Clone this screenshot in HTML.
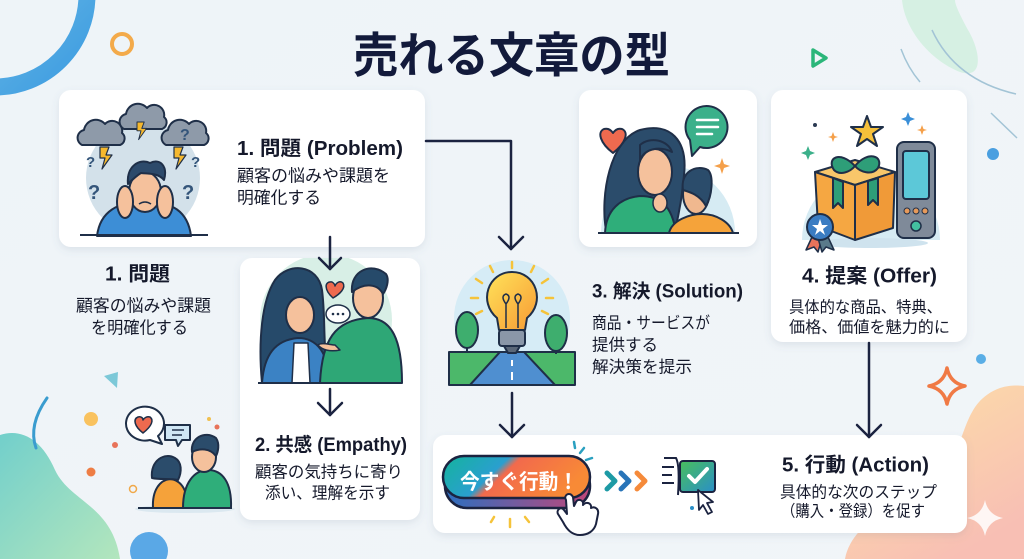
<!DOCTYPE html>
<html><head><meta charset="utf-8">
<style>
html,body{margin:0;padding:0;background:#eef4f8;}
body{width:1024px;height:559px;overflow:hidden;}
svg{display:block;}
text{font-family:"Liberation Sans","Noto Sans CJK JP",sans-serif;}
</style></head>
<body>
<svg width="1024" height="559" viewBox="0 0 1024 559" xmlns="http://www.w3.org/2000/svg">
<defs>
  <linearGradient id="bgG" x1="0" y1="0" x2="1" y2="1">
    <stop offset="0" stop-color="#eef4f8"/><stop offset="1" stop-color="#f1f5f8"/>
  </linearGradient>
  <linearGradient id="arcG" x1="0" y1="0" x2="1" y2="1">
    <stop offset="0" stop-color="#8fd0ec"/><stop offset="1" stop-color="#3b9be0"/>
  </linearGradient>
  <linearGradient id="peachG" x1="0" y1="0" x2="0.6" y2="1">
    <stop offset="0" stop-color="#fde2a6"/><stop offset="1" stop-color="#f8bfb4"/>
  </linearGradient>
  <linearGradient id="tealG" x1="0" y1="0" x2="1" y2="1">
    <stop offset="0" stop-color="#72cfcb"/><stop offset="1" stop-color="#b3e6bd"/>
  </linearGradient>
  <linearGradient id="btnG" x1="0" y1="0" x2="1" y2="0.3">
    <stop offset="0" stop-color="#14b49c"/><stop offset="0.42" stop-color="#2a9fcf"/>
    <stop offset="0.5" stop-color="#f26a4c"/><stop offset="1" stop-color="#f88a36"/>
  </linearGradient>
  <linearGradient id="btnB" x1="0" y1="0" x2="1" y2="0">
    <stop offset="0" stop-color="#2c6fc0"/><stop offset="1" stop-color="#c0467a"/>
  </linearGradient>
  <linearGradient id="bulbG" x1="0" y1="0" x2="1" y2="1">
    <stop offset="0" stop-color="#ffe35a"/><stop offset="1" stop-color="#f79a34"/>
  </linearGradient>
  <linearGradient id="chkG" x1="0" y1="0" x2="1" y2="1">
    <stop offset="0" stop-color="#49bf5c"/><stop offset="1" stop-color="#2a8fc8"/>
  </linearGradient>
  <filter id="sh" x="-10%" y="-10%" width="120%" height="130%">
    <feDropShadow dx="0" dy="3" stdDeviation="4" flood-color="#5a7590" flood-opacity="0.14"/>
  </filter>
  <clipPath id="c2"><rect x="240" y="258" width="180" height="126" rx="12"/></clipPath>
  <path id="cloud" d="M4,27 a8,8 0 0 1 2,-15 a12,12 0 0 1 21,-6 a10,10 0 0 1 17,9 a7,7 0 0 1 -2,12 z"/>
  <path id="bolt" d="M0,0 L9,0 L6,8 L12,8 L2,22 L5,11 L0,11 z"/>
</defs>

<!-- background -->
<rect width="1024" height="559" fill="url(#bgG)"/>
<circle cx="-5" cy="-5" r="92" fill="none" stroke="url(#arcG)" stroke-width="17"/>
<circle cx="122" cy="44" r="10" fill="none" stroke="#f3aa4a" stroke-width="4"/>
<path d="M902,0 C905,30 930,60 960,72 C985,80 980,50 968,30 C960,15 955,5 955,0 Z" fill="#d3efe0" opacity="0.9"/>
<path d="M901,49 Q908,68 920,82" fill="none" stroke="#a3c4d6" stroke-width="1.5"/>
<path d="M932,30 Q955,80 1016,94" fill="none" stroke="#a3c4d6" stroke-width="1.5"/>
<path d="M991,113 L1017,138" fill="none" stroke="#a3c4d6" stroke-width="1.5"/>
<path d="M813,50 L826,58 L813,66 Z" fill="none" stroke="#2bb67a" stroke-width="3.5" stroke-linejoin="round"/>
<circle cx="993" cy="154" r="6" fill="#4a9fe0"/>
<circle cx="981" cy="359" r="5" fill="#5aaee6"/>
<path d="M845,559 C852,520 905,500 945,470 C968,440 962,402 1000,388 C1012,384 1024,386 1024,386 L1024,559 Z" fill="url(#peachG)"/>
<path d="M985,500 Q988,515 1003,518 Q988,521 985,536 Q982,521 967,518 Q982,515 985,500 Z" fill="#fff" opacity="0.85"/>
<path d="M947,368 Q950,383 965,386 Q950,389 947,404 Q944,389 929,386 Q944,383 947,368 Z" fill="none" stroke="#f07a45" stroke-width="3.5" stroke-linejoin="round"/>
<path d="M0,435 C22,428 42,440 55,470 C70,502 112,505 120,559 L0,559 Z" fill="url(#tealG)"/>
<circle cx="149" cy="551" r="19" fill="#5aa8e6"/>
<path d="M104,376 L118,372 L117,388 Z" fill="#7cc8d8"/>
<path d="M47,398 Q28,425 36,448" fill="none" stroke="#3a9ccf" stroke-width="3" stroke-linecap="round"/>
<circle cx="91" cy="419" r="7" fill="#f9c25f"/>
<circle cx="115" cy="445" r="3" fill="#e8735a"/>
<circle cx="91" cy="472" r="4.5" fill="#ee7d45"/>
<circle cx="133" cy="489" r="3.5" fill="none" stroke="#f0a84a" stroke-width="1.5"/>
<circle cx="209" cy="419" r="2" fill="#f0c050"/>
<circle cx="217" cy="427" r="2.5" fill="#e8735a"/>

<!-- cards -->
<g fill="#ffffff" filter="url(#sh)">
  <rect x="59" y="90" width="366" height="157" rx="12"/>
  <rect x="240" y="258" width="180" height="262" rx="12"/>
  <rect x="579" y="90" width="178" height="157" rx="12"/>
  <rect x="771" y="90" width="196" height="252" rx="12"/>
  <rect x="433" y="435" width="534" height="98" rx="12"/>
</g>

<!-- title -->
<text x="353" y="72" font-size="48" font-weight="700" fill="#121a3b" textLength="317" lengthAdjust="spacingAndGlyphs">売れる文章の型</text>

<!-- illustration 1: problem -->
<g stroke="#1f2f48" stroke-width="2" stroke-linejoin="round">
  <circle cx="143" cy="178" r="57" fill="#d3e1ea" stroke="none"/>
  <use href="#cloud" transform="translate(78,118)" fill="#8e9aa9"/>
  <use href="#cloud" transform="translate(120,102)" fill="#8e9aa9"/>
  <use href="#cloud" transform="translate(162,118)" fill="#8e9aa9"/>
  <use href="#bolt" transform="translate(100,147)" fill="#f5b82e" stroke-width="1.2"/>
  <use href="#bolt" transform="translate(137,122) scale(0.8)" fill="#f5b82e" stroke-width="1.2"/>
  <use href="#bolt" transform="translate(174,147)" fill="#f5b82e" stroke-width="1.2"/>
  <path d="M97,236 C100,212 118,200 145,204 C172,200 188,212 191,236 Z" fill="#3d8ed6"/>
  <ellipse cx="145" cy="192" rx="16" ry="20" fill="#f5c19c"/>
  <path d="M128,184 C126,166 140,158 150,163 C160,158 168,166 164,180 C158,173 150,174 141,173 C136,176 132,180 128,184 Z" fill="#2d4a6b"/>
  <ellipse cx="125" cy="202" rx="8" ry="16" fill="#f5c19c"/>
  <ellipse cx="165" cy="202" rx="8" ry="16" fill="#f5c19c"/>
  <path d="M139,204 q6,-4 12,0" fill="none" stroke-width="1.5"/>
  <line x1="80" y1="235" x2="208" y2="235" stroke-width="2"/>
</g>
<g font-size="20" font-weight="700" fill="#34557a">
  <text x="86" y="167" font-size="15">?</text>
  <text x="88" y="199">?</text>
  <text x="180" y="140" font-size="16">?</text>
  <text x="191" y="167" font-size="15">?</text>
  <text x="182" y="199">?</text>
</g>

<!-- illustration 2: empathy -->
<g stroke="#1f2f48" stroke-width="2" stroke-linejoin="round">
  <circle cx="326" cy="320" r="66" fill="#d8efe6" stroke="none" clip-path="url(#c2)"/>
  <path d="M262,383 C258,340 262,300 275,280 C288,262 318,264 322,290 C326,320 322,350 330,383 Z" fill="#264a6a"/>
  <ellipse cx="300" cy="315" rx="14" ry="18" fill="#f5c19c"/>
  <path d="M262,383 C264,355 275,340 298,338 C315,338 328,350 330,383 Z" fill="#3b82c4"/>
  <path d="M292,383 L294,343 L308,343 L310,383 Z" fill="#ffffff" stroke-width="1.5"/>
  <path d="M320,383 C322,340 335,320 368,318 C392,318 402,340 402,383 Z" fill="#2ea776"/>
  <path d="M335,345 C330,345 322,342 318,345 C322,350 330,352 340,350 Z" fill="#f5c19c" stroke-width="1.5"/>
  <ellipse cx="368" cy="298" rx="15" ry="20" fill="#f5c19c"/>
  <path d="M352,292 C350,270 372,262 386,274 C390,280 386,290 383,294 C378,284 365,282 352,292 Z" fill="#264a6a"/>
  <path d="M333,298 C324,290 324,281 332,282 C334,283 335,285 335,286 C336,283 340,280 343,283 C346,288 340,294 333,298 Z" fill="#ee6a4f" stroke-width="1.5"/>
  <ellipse cx="338" cy="314" rx="12" ry="9" fill="#ffffff" stroke-width="1.5"/>
  <line x1="258" y1="383" x2="402" y2="383"/>
</g>
<g fill="#1f2f48"><circle cx="333" cy="314" r="1.3"/><circle cx="338" cy="314" r="1.3"/><circle cx="343" cy="314" r="1.3"/></g>

<!-- illustration 3: woman & man -->
<g stroke="#1f2f48" stroke-width="2" stroke-linejoin="round">
  <path d="M601,233 A66,66 0 1 1 735,233 Z" fill="#d6ebf3" stroke="none"/>
  <path d="M606,230 C600,195 610,140 640,130 C670,122 688,140 684,175 C682,195 680,210 675,230 Z" fill="#2b4c6b"/>
  <ellipse cx="655" cy="172" rx="17" ry="23" fill="#f5c19c"/>
  <path d="M640,160 C645,148 660,146 672,152 C668,140 650,136 640,145 Z" fill="#2b4c6b"/>
  <path d="M605,233 C606,210 620,198 640,196 C660,196 672,205 676,233 Z" fill="#2fae7a"/>
  <ellipse cx="660" cy="203" rx="7" ry="9" fill="#f5c19c" stroke-width="1.5"/>
  <path d="M669,233 C672,220 690,214 702,214 C716,214 730,222 733,233 Z" fill="#f5a33a"/>
  <ellipse cx="696" cy="194" rx="13" ry="20" fill="#f0b88f"/>
  <path d="M683,190 C680,172 696,164 708,170 C714,176 712,196 706,206 C700,195 690,192 683,190 Z" fill="#2b4c6b"/>
  <path d="M613,153 C600,143 597,132 604,129 C608,128 611,130 613,133 C615,130 618,128 622,129 C629,132 626,143 613,153 Z" fill="#ee6a4f"/>
  <path d="M690,140 A21,21 0 1 1 700,147 L692,156 Z" fill="#3bb08a"/>
  <line x1="598" y1="233" x2="739" y2="233"/>
</g>
<g stroke="#ffffff" stroke-width="2.5" stroke-linecap="round">
  <line x1="697" y1="120" x2="718" y2="120"/><line x1="697" y1="127" x2="718" y2="127"/><line x1="697" y1="134" x2="712" y2="134"/>
</g>
<path d="M722,158 L724,164 L730,166 L724,168 L722,174 L720,168 L714,166 L720,164 Z" fill="#f5a04a"/>

<!-- illustration 4: offer -->
<g stroke="#1f2f48" stroke-width="2" stroke-linejoin="round">
  <path d="M802,240 A68,68 0 1 1 940,240 Z" fill="#d6ebf3" stroke="none"/>
  <ellipse cx="870" cy="243" rx="58" ry="5" fill="#cfe3ee" stroke="none"/>
  <path d="M815,172 L855,160 L895,172 L855,185 Z" fill="#f8c66a"/>
  <path d="M815,172 L855,185 L855,240 L818,226 Z" fill="#f5a742"/>
  <path d="M855,185 L895,172 L893,228 L855,240 Z" fill="#f09a38"/>
  <path d="M833,178 L843,182 L843,208 L838,203 L833,208 Z" fill="#2e9e78"/>
  <path d="M868,181 L878,178 L878,205 L873,200 L868,205 Z" fill="#2e9e78"/>
  <path d="M855,166 C840,150 826,158 834,170 C840,176 850,172 855,166 C860,172 872,176 878,168 C884,156 868,150 855,166 Z" fill="#2e9e78"/>
  <path d="M867,116 L871,127 L883,127 L873,134 L877,146 L867,139 L857,146 L861,134 L851,127 L863,127 Z" fill="#f6c03a"/>
  <rect x="897" y="142" width="38" height="96" rx="7" fill="#7f8a99"/>
  <rect x="903" y="151" width="26" height="48" rx="3" fill="#5cc8d8"/>
  <circle cx="907" cy="211" r="3" fill="#e79a5a" stroke-width="1"/>
  <circle cx="916" cy="211" r="3" fill="#e79a5a" stroke-width="1"/>
  <circle cx="925" cy="211" r="3" fill="#e79a5a" stroke-width="1"/>
  <circle cx="916" cy="226" r="5" fill="#43c0a0" stroke-width="1.5"/>
  <path d="M812,237 L806,250 L814,247 L818,252 L822,238 Z" fill="#e8735a" stroke-width="1.5"/>
  <path d="M828,237 L834,250 L826,247 L822,252 L818,238 Z" fill="#5a7a8a" stroke-width="1.5"/>
  <circle cx="820" cy="227" r="13" fill="#3a7cc2"/>
</g>
<path d="M820,219 L822,225 L828,225 L823,229 L825,235 L820,231 L815,235 L817,229 L812,225 L818,225 Z" fill="#fff"/>
<circle cx="815" cy="125" r="2" fill="#2b3a52"/>
<path d="M808,146 L810,151 L815,153 L810,155 L808,160 L806,155 L801,153 L806,151 Z" fill="#3bb08a"/>
<path d="M833,132 L834.5,136 L838,137 L834.5,138 L833,142 L831.5,138 L828,137 L831.5,136 Z" fill="#f5a04a"/>
<path d="M908,112 L910,117 L915,119 L910,121 L908,126 L906,121 L901,119 L906,117 Z" fill="#3a8fd8"/>
<path d="M922,125 L923.5,129 L927,130 L923.5,131 L922,135 L920.5,131 L917,130 L920.5,129 Z" fill="#f5a04a"/>

<!-- bottom-left couple -->
<g stroke="#1f2f48" stroke-width="2" stroke-linejoin="round">
  <ellipse cx="185" cy="509" rx="50" ry="4" fill="#dbe8f0" stroke="none"/>
  <path d="M165,425 L190,425 L190,440 L182,440 L178,446 L176,440 L165,440 Z" fill="#cfe6f5"/>
  <path d="M150,440 A19,17 0 1 1 158,436 L162,444 Z" fill="#ffffff"/>
  <path d="M143,433 C134,426 133,419 138,417 C141,416 143,418 143,420 C144,418 147,416 150,417 C154,420 152,426 143,433 Z" fill="#ee6a4f" stroke-width="1.5"/>
  <path d="M153,508 C152,490 160,480 170,479 C182,480 188,492 188,508 Z" fill="#f5a23a"/>
  <path d="M152,478 C150,460 165,452 175,458 C182,462 182,472 178,480 C170,478 160,480 152,478 Z" fill="#2b4c6b"/>
  <path d="M183,508 C183,482 195,470 208,470 C222,470 232,482 231,508 Z" fill="#2fae7a"/>
  <ellipse cx="204" cy="457" rx="12" ry="15" fill="#f5c19c"/>
  <path d="M192,452 C190,438 205,430 216,438 C220,444 218,452 216,456 C210,448 200,448 192,452 Z" fill="#2b4c6b"/>
  <line x1="138" y1="508" x2="232" y2="508"/>
</g>
<g stroke="#1f2f48" stroke-width="1.5"><line x1="172" y1="430" x2="184" y2="430"/><line x1="172" y1="435" x2="182" y2="435"/></g>

<!-- lightbulb -->
<g stroke="#1f2f48" stroke-width="2" stroke-linejoin="round">
  <circle cx="512" cy="318" r="58" fill="#d6ecf6" stroke="none"/>
  <path d="M449,385 L449,352 L500,352 L470,385 Z" fill="#4cb86a"/>
  <path d="M575,385 L575,352 L524,352 L555,385 Z" fill="#4cb86a"/>
  <path d="M500,352 L524,352 L555,385 L470,385 Z" fill="#4f8fd0"/>
  <line x1="467" y1="352" x2="467" y2="335" stroke-width="2"/>
  <ellipse cx="467" cy="330" rx="11" ry="18" fill="#3eae6e"/>
  <line x1="556" y1="354" x2="556" y2="338" stroke-width="2"/>
  <ellipse cx="556" cy="333" rx="11" ry="18" fill="#3eae6e"/>
  <path d="M497,318 C478,302 488,272 512,272 C536,272 546,302 527,318 L525,330 L499,330 Z" fill="url(#bulbG)"/>
  <rect x="499" y="330" width="26" height="16" rx="3" fill="#8a97a8"/>
  <path d="M504,346 L520,346 L516,353 L508,353 Z" fill="#5a6778"/>
  <path d="M506,328 L506,304 M518,328 L518,304 M506,304 q-6,-8 0,-10 q6,2 0,10 M518,304 q6,-8 0,-10 q-6,2 0,10" fill="none" stroke-width="1.5"/>
</g>
<g stroke="#ffffff" stroke-width="2"><line x1="512" y1="360" x2="512" y2="366"/><line x1="512" y1="372" x2="512" y2="380"/></g>
<g stroke="#f5c33a" stroke-width="2.5" stroke-linecap="round">
  <line x1="512" y1="262" x2="512" y2="268"/><line x1="490" y1="266" x2="493" y2="272"/><line x1="534" y1="266" x2="531" y2="272"/>
  <line x1="476" y1="279" x2="482" y2="283"/><line x1="548" y1="279" x2="542" y2="283"/>
  <line x1="471" y1="298" x2="478" y2="298"/><line x1="553" y1="298" x2="546" y2="298"/>
  <line x1="476" y1="314" x2="482" y2="311"/><line x1="548" y1="314" x2="542" y2="311"/>
</g>

<!-- button -->
<g stroke="#1b2340" stroke-width="2.5" stroke-linejoin="round">
  <rect x="445" y="464" width="145" height="44" rx="22" fill="url(#btnB)"/>
  <rect x="443" y="456" width="147" height="42" rx="21" fill="url(#btnG)"/>
</g>
<text x="460" y="489" font-size="21" font-weight="700" fill="#ffffff" textLength="118" lengthAdjust="spacingAndGlyphs">今すぐ行動！</text>
<path d="M566,500 C563,495 570,491 573,497 L574,506 L576,502 C578,498 584,500 583,505 C586,501 592,503 591,508 C595,506 599,509 598,514 L596,524 C594,531 588,535 580,535 C572,535 567,530 563,522 L558,514 C556,510 561,506 564,510 L567,514 Z" fill="#ffffff" stroke="#1b2340" stroke-width="2" stroke-linejoin="round"/>
<g stroke="#f5c33a" stroke-width="2.5" stroke-linecap="round">
  <line x1="494" y1="517" x2="491" y2="522"/><line x1="510" y1="519" x2="510" y2="527"/><line x1="525" y1="517" x2="529" y2="522"/>
</g>
<g stroke="#2aa0c0" stroke-width="2.5" stroke-linecap="round">
  <line x1="574" y1="442" x2="575" y2="448"/><line x1="584" y1="448" x2="580" y2="453"/><line x1="592" y1="458" x2="586" y2="460"/>
</g>
<!-- chevrons & checkbox -->
<g fill="none" stroke-width="5" stroke-linecap="round" stroke-linejoin="round">
  <path d="M607,473 L615,481 L607,489" stroke="#1d9aa5"/>
  <path d="M621,473 L629,481 L621,489" stroke="#2874b8"/>
  <path d="M637,473 L645,481 L637,489" stroke="#f58a3a"/>
</g>
<g stroke="#1b2340" stroke-width="2" fill="none">
  <line x1="662" y1="467" x2="674" y2="467"/><line x1="662" y1="475" x2="672" y2="475"/><line x1="662" y1="483" x2="674" y2="483"/>
  <path d="M664,458 L676,458 Q680,465 678,495"/>
</g>
<rect x="680" y="461" width="35" height="31" rx="3" fill="url(#chkG)" stroke="#1b2340" stroke-width="2"/>
<path d="M689,476 L695,482 L707,469" fill="none" stroke="#ffffff" stroke-width="4" stroke-linecap="round" stroke-linejoin="round"/>
<path d="M698,490 L699,510 L703,505 L708,514 L712,512 L707,503 L713,502 Z" fill="#ffffff" stroke="#1b2340" stroke-width="1.8" stroke-linejoin="round"/>
<circle cx="692" cy="508" r="2" fill="#2a8fc8"/>

<!-- connectors -->
<g fill="none" stroke="#1b2340" stroke-width="2.5" stroke-linecap="round" stroke-linejoin="round">
  <path d="M426,141 H511 V249"/><path d="M499,237 L511,249 L523,237"/>
  <path d="M330,237 V269"/><path d="M319,258 L330,269 L341,258"/>
  <path d="M330,389 V415"/><path d="M318,403 L330,415 L342,403"/>
  <path d="M512,393 V437"/><path d="M500,425 L512,437 L524,425"/>
  <path d="M869,343 V437"/><path d="M857,425 L869,437 L881,425"/>
</g>

<!-- labels -->
<g fill="#15192b">
  <text x="237" y="155" font-size="20" font-weight="700" textLength="166" lengthAdjust="spacingAndGlyphs">1. 問題 (Problem)</text>
  <text x="237" y="181.5" font-size="17" textLength="153" lengthAdjust="spacingAndGlyphs">顧客の悩みや課題を</text>
  <text x="237" y="203.5" font-size="17" textLength="84" lengthAdjust="spacingAndGlyphs">明確化する</text>

  <text x="105" y="280.5" font-size="20" font-weight="700" textLength="65" lengthAdjust="spacingAndGlyphs">1. 問題</text>
  <text x="76" y="311.5" font-size="17" textLength="135" lengthAdjust="spacingAndGlyphs">顧客の悩みや課題</text>
  <text x="91" y="333.5" font-size="17" textLength="97" lengthAdjust="spacingAndGlyphs">を明確化する</text>

  <text x="255" y="451" font-size="19" font-weight="700" textLength="152" lengthAdjust="spacingAndGlyphs">2. 共感 (Empathy)</text>
  <text x="255" y="477.5" font-size="16.5" textLength="148" lengthAdjust="spacingAndGlyphs">顧客の気持ちに寄り</text>
  <text x="265" y="498.5" font-size="16.5" textLength="125" lengthAdjust="spacingAndGlyphs">添い、理解を示す</text>

  <text x="592" y="297.5" font-size="19" font-weight="700" textLength="151" lengthAdjust="spacingAndGlyphs">3. 解決 (Solution)</text>
  <text x="592" y="328.5" font-size="16.5" textLength="118" lengthAdjust="spacingAndGlyphs">商品・サービスが</text>
  <text x="592" y="350.5" font-size="16.5" textLength="66" lengthAdjust="spacingAndGlyphs">提供する</text>
  <text x="592" y="372.5" font-size="16.5" textLength="100" lengthAdjust="spacingAndGlyphs">解決策を提示</text>

  <text x="802" y="282.5" font-size="20" font-weight="700" textLength="135" lengthAdjust="spacingAndGlyphs">4. 提案 (Offer)</text>
  <text x="789" y="312.5" font-size="16" textLength="153" lengthAdjust="spacingAndGlyphs">具体的な商品、特典、</text>
  <text x="789" y="332.5" font-size="16" textLength="161" lengthAdjust="spacingAndGlyphs">価格、価値を魅力的に</text>

  <text x="782" y="471.5" font-size="20" font-weight="700" textLength="147" lengthAdjust="spacingAndGlyphs">5. 行動 (Action)</text>
  <text x="780" y="497.5" font-size="16" textLength="157" lengthAdjust="spacingAndGlyphs">具体的な次のステップ</text>
  <text x="781" y="516.5" font-size="16" textLength="144" lengthAdjust="spacingAndGlyphs">（購入・登録）を促す</text>
</g>
</svg>
</body></html>
